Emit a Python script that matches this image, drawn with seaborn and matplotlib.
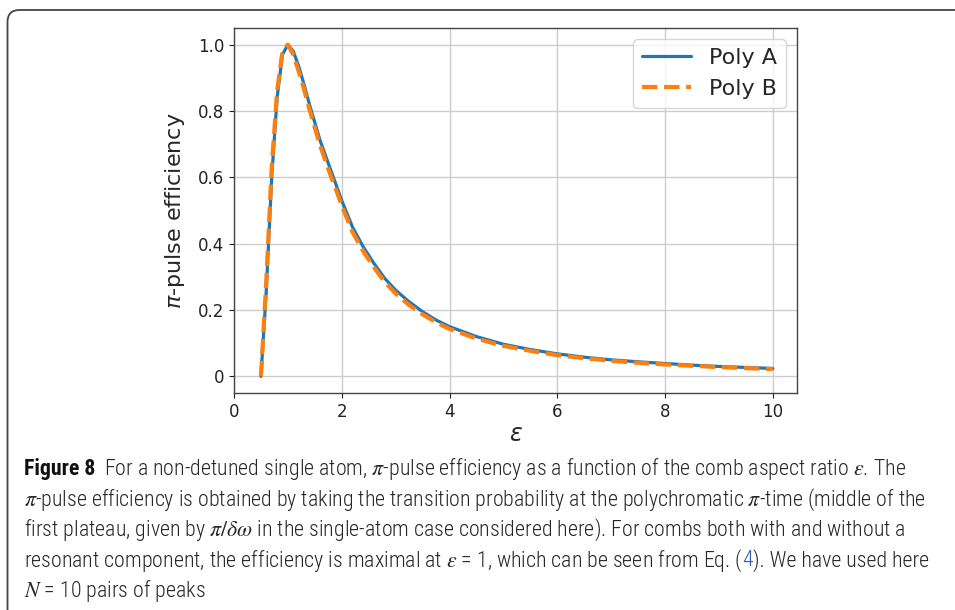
import matplotlib
matplotlib.use("Agg")
import matplotlib.pyplot as plt
import seaborn as sns
from matplotlib import font_manager
from matplotlib.patches import FancyBboxPatch
from matplotlib.transforms import IdentityTransform

# Values
eps = [0.5, 0.6, 0.7, 0.8, 0.9, 1.0, 1.1, 1.2, 1.3, 1.4, 1.5, 1.6, 1.7, 1.8, 1.9, 2.0,
       2.2, 2.4, 2.6, 2.8, 3.0, 3.25, 3.5, 3.75, 4.0,
       4.5, 5.0, 5.5, 6.0, 6.5, 7.0, 7.5, 8.0, 8.5, 9.0, 9.5, 10.0]
poly_a = [0.0, 0.26, 0.60, 0.84, 0.97, 1.0, 0.98, 0.935, 0.88, 0.82, 0.765, 0.71, 0.665, 0.62, 0.575, 0.53,
          0.45, 0.39, 0.34, 0.295, 0.26, 0.225, 0.195, 0.17, 0.15,
          0.12, 0.097, 0.081, 0.068, 0.058, 0.050, 0.044, 0.039, 0.034, 0.030, 0.027, 0.024]
poly_b = [0.0, 0.29, 0.63, 0.86, 0.98, 1.0, 0.97, 0.92, 0.865, 0.805, 0.75, 0.695, 0.648, 0.603, 0.56, 0.515,
          0.435, 0.377, 0.328, 0.284, 0.25, 0.215, 0.187, 0.163, 0.143,
          0.114, 0.092, 0.077, 0.064, 0.055, 0.047, 0.041, 0.036, 0.032, 0.028, 0.025, 0.022]

x_ticks = [0, 2, 4, 6, 8, 10]
y_ticks = [0, 0.2, 0.4, 0.6, 0.8, 1.0]
y_tick_labels = ['0', '0.2', '0.4', '0.6', '0.8', '1.0']

# Caption, one list of (text, style) runs per line, plus where each full line ends in the reference
caption_lines = [
    [("Figure 8", "bold"), ("For a non-detuned single atom, $\\pi$-pulse efficiency as a function of the comb aspect ratio $\\epsilon$. The", "normal")],
    [("$\\pi$-pulse efficiency is obtained by taking the transition probability at the polychromatic $\\pi$-time (middle of the", "normal")],
    [("first plateau, given by $\\pi/\\delta\\omega$ in the single-atom case considered here). For combs both with and without a", "normal")],
    [("resonant component, the efficiency is maximal at $\\epsilon$ = 1, which can be seen from Eq. (", "normal"), ("4", "link"), ("). We have used here", "normal")],
    [("$N$ = 10 pairs of peaks", "normal")],
]
caption_ends = [928, 945, 930, 928, None]

W, H = 955, 610

sns.set_style("ticks")
plt.rcParams['font.family'] = ['DejaVu Sans']


def pick_caption_font():
    for name in ['Liberation Sans Narrow', 'DejaVu Sans Condensed', 'Roboto Condensed']:
        try:
            font_manager.findfont(font_manager.FontProperties(family=name), fallback_to_default=False)
            return name
        except ValueError:
            continue
    return 'DejaVu Sans'


cap_font = pick_caption_font()

fig = plt.figure(figsize=(W / 100, H / 100), dpi=100)
fig.patch.set_facecolor('white')

# rounded frame around the whole figure box
frame = FancyBboxPatch((7.5, -40), 1100, 640, boxstyle="round,pad=0,rounding_size=12",
                       transform=IdentityTransform(), facecolor='none', edgecolor='#444444', lw=1.3)
fig.add_artist(frame)

ax = fig.add_axes([234 / W, 1 - 393 / H, 563 / W, 365 / H])

sns.lineplot(x=eps, y=poly_a, ax=ax, color='#1f77b4', lw=2.3, label='Poly A')
sns.lineplot(x=eps, y=poly_b, ax=ax, color='#ff7f0e', lw=3, ls='--', label='Poly B')

ax.set_xlim(0, 10.45)
ax.set_ylim(-0.05, 1.05)
ax.set_xticks(x_ticks)
ax.set_yticks(y_ticks)
ax.set_yticklabels(y_tick_labels)
ax.tick_params(labelsize=12, length=3.5, width=0.8, colors='#222222')
ax.grid(True, color='#cccccc', lw=1)
for s in ax.spines.values():
    s.set_visible(True)
    s.set_color('#444444')
    s.set_linewidth(1)

ax.set_xlabel('$\\varepsilon$', fontsize=17, labelpad=1)
ax.set_ylabel('$\\pi$-pulse efficiency', fontsize=16, labelpad=8)

ax.legend(loc='upper right', fontsize=16, handlelength=2.2, framealpha=0.8)

renderer = fig.canvas.get_renderer()


def draw_line(runs, y_px, size, x_px=24):
    texts = []
    x = x_px
    for txt, style in runs:
        kw = dict(family=cap_font, stretch='condensed', fontsize=size, va='baseline', ha='left',
                  math_fontfamily='stix', color='#262626', fontweight='light')
        if style == 'bold':
            kw['fontweight'] = 'bold'
            kw['color'] = '#111111'
        if style == 'link':
            kw['color'] = '#2a5db0'
        t = fig.text(x / W, 1 - y_px / H, txt, **kw)
        texts.append(t)
        x += t.get_window_extent(renderer).width
        if style == 'bold':
            x += size * 0.55
    return texts, x


# fit the caption size so no full line runs past where it ends in the reference
base = 13.0
scales = []
for runs, end_ref in zip(caption_lines, caption_ends):
    if end_ref is None:
        continue
    tmp, end = draw_line(runs, 474, base)
    for t in tmp:
        t.remove()
    scales.append((end_ref - 24) / (end - 24))
size = base * min(scales)

for i, runs in enumerate(caption_lines):
    draw_line(runs, 475 + i * 30.5, size)

fig.savefig('out.png', dpi=100)
